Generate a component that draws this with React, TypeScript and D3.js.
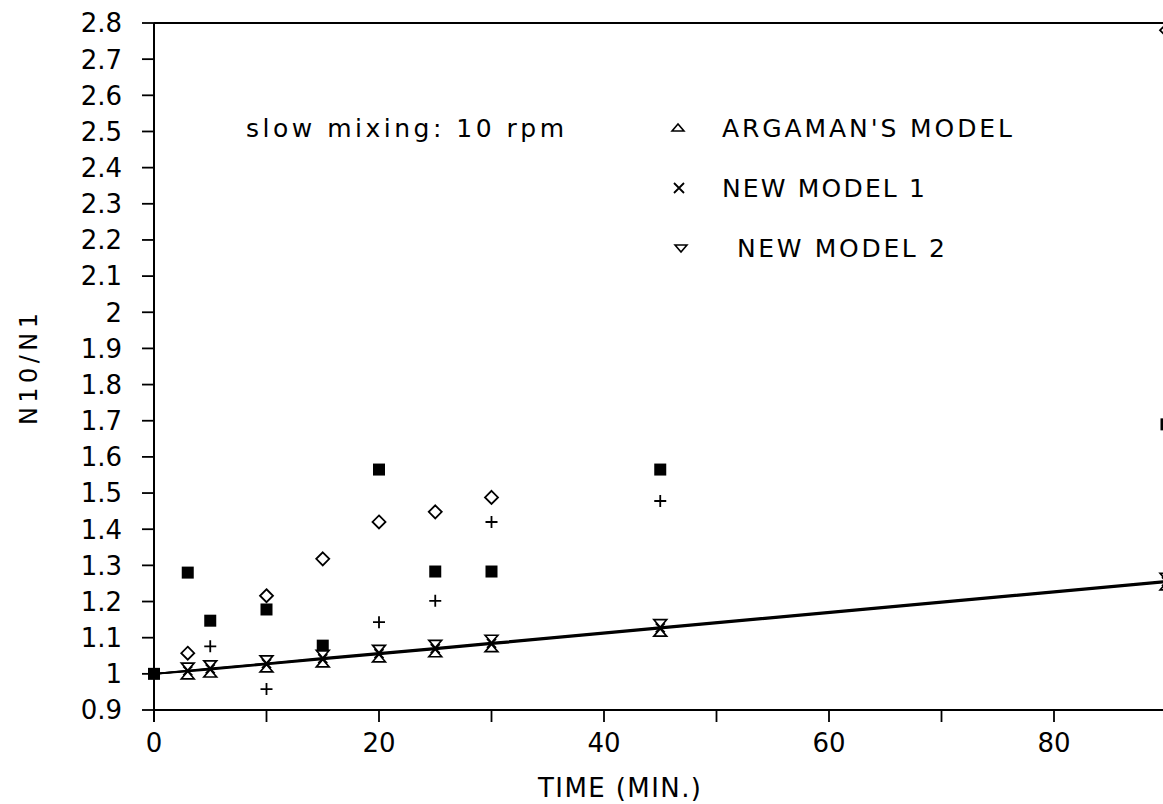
import React from 'react';
import * as d3 from 'd3';

// time in minutes
const times = [0, 3, 5, 10, 15, 20, 25, 30, 45, 90];

// measured ratio (filled squares)
const measuredSquare = [
  [0, 1.0], [3, 1.28], [5, 1.147], [10, 1.178], [15, 1.078],
  [20, 1.565], [25, 1.283], [30, 1.283], [45, 1.565], [90, 1.69],
];
// open diamonds
const measuredDiamond = [
  [3, 1.057], [10, 1.216], [15, 1.318], [20, 1.42], [25, 1.448], [30, 1.488], [90, 2.78],
];
// plus signs
const measuredPlus = [
  [5, 1.076], [10, 0.958], [20, 1.143], [25, 1.202], [30, 1.42], [45, 1.478],
];

// model curves, one value per entry in times
const argamanModel = [1.0, 1.007, 1.012, 1.026, 1.04, 1.054, 1.068, 1.082, 1.125, 1.253];
const newModel1 = [1.0, 1.008, 1.014, 1.028, 1.042, 1.056, 1.07, 1.084, 1.127, 1.255];
const newModel2 = [1.0, 1.009, 1.015, 1.029, 1.044, 1.058, 1.072, 1.086, 1.129, 1.257];

const xTicks = [0, 10, 20, 30, 40, 50, 60, 70, 80, 90];
const xTickLabels = ['0', '', '20', '', '40', '', '60', '', '80', ''];
const yTicks = [0.9, 1, 1.1, 1.2, 1.3, 1.4, 1.5, 1.6, 1.7, 1.8, 1.9, 2, 2.1, 2.2, 2.3, 2.4, 2.5, 2.6, 2.7, 2.8];
const yTickLabels = ['0.9', '1', '1.1', '1.2', '1.3', '1.4', '1.5', '1.6', '1.7', '1.8', '1.9', '2', '2.1', '2.2', '2.3', '2.4', '2.5', '2.6', '2.7', '2.8'];

const legendNames = ["ARGAMAN'S MODEL", 'NEW MODEL 1', 'NEW MODEL 2'];

const W = 1163;
const H = 804;
const FONT = '"DejaVu Sans", sans-serif';

const x = d3.scaleLinear().domain([0, 90]).range([154, 1166.5]);
const y = d3.scaleLinear().domain([0.9, 2.8]).range([710, 23]);

const upTri = (s: number) => `M0,0L${-s * 0.85},${s}L${s * 0.85},${s}Z`;
const downTri = (s: number) => `M0,0L${-s * 0.85},${-s}L${s * 0.85},${-s}Z`;
const cross = (s: number) => `M${-s},${-s}L${s},${s}M${-s},${s}L${s},${-s}`;
const plus = (s: number) => `M${-s},0L${s},0M0,${-s}L0,${s}`;
const diamond = (s: number) => `M0,${-s}L${s},0L0,${s}L${-s},0Z`;

export default function App() {
  const line = d3.line<number>()
    .x((_, i) => x(times[i]))
    .y(d => y(d));

  const models = [argamanModel, newModel1, newModel2];
  const [x0, x1] = x.range();
  const [yb, yt] = y.range();

  return (
    <svg width={W} height={H} style={{ position: 'absolute', left: 0, top: 0, background: '#fff' }}>
      <rect width={W} height={H} fill="#fff" />

      {/* frame */}
      <line x1={x0} x2={x0} y1={yt} y2={yb + 12} stroke="#000" strokeWidth={2} />
      <line x1={x0} x2={x1} y1={yb} y2={yb} stroke="#000" strokeWidth={2} />
      <line x1={x0} x2={x1} y1={yt} y2={yt} stroke="#000" strokeWidth={2} />

      {/* y ticks */}
      {yTicks.map((v, i) => (
        <g key={'yt' + i} transform={`translate(0,${y(v)})`}>
          <line x1={x0 - 12} x2={x0} stroke="#000" strokeWidth={1.8} />
          <text x={122} dy="0.36em" textAnchor="end" fontFamily={FONT} fontSize={26} fill="#000">
            {yTickLabels[i]}
          </text>
        </g>
      ))}

      {/* x ticks */}
      {xTicks.map((v, i) => (
        <g key={'xt' + i} transform={`translate(${x(v)},0)`}>
          <line y1={yb} y2={yb + 12} stroke="#000" strokeWidth={1.8} />
          <text y={752} textAnchor="middle" fontFamily={FONT} fontSize={26} fill="#000">
            {xTickLabels[i]}
          </text>
        </g>
      ))}

      {/* axis titles */}
      <text x={538} y={797} textLength={163} lengthAdjust="spacing" fontFamily={FONT} fontSize={26} fill="#000">
        TIME (MIN.)
      </text>
      <text transform="translate(37,425) rotate(-90)" textLength={112} lengthAdjust="spacing"
        fontFamily={FONT} fontSize={24} fill="#000">
        N10/N1
      </text>

      {/* annotation + legend */}
      <text x={246} y={137} textLength={318} lengthAdjust="spacing" fontFamily={FONT} fontSize={25} fill="#000">
        slow mixing: 10 rpm
      </text>
      <path transform="translate(678,124)" d={upTri(7)} fill="none" stroke="#000" strokeWidth={1.6} />
      <path transform="translate(679,188)" d={cross(5)} fill="none" stroke="#000" strokeWidth={1.8} />
      <path transform="translate(681,252)" d={downTri(7)} fill="none" stroke="#000" strokeWidth={1.6} />
      <text x={722} y={137} textLength={290} lengthAdjust="spacing" fontFamily={FONT} fontSize={25} fill="#000">
        {legendNames[0]}
      </text>
      <text x={722} y={197} textLength={203} lengthAdjust="spacing" fontFamily={FONT} fontSize={25} fill="#000">
        {legendNames[1]}
      </text>
      <text x={737} y={257} textLength={208} lengthAdjust="spacing" fontFamily={FONT} fontSize={25} fill="#000">
        {legendNames[2]}
      </text>

      {/* model lines */}
      {models.map((m, k) => (
        <path key={'ml' + k} d={line(m) || ''} fill="none" stroke="#000" strokeWidth={1.8} />
      ))}

      {/* model markers */}
      {times.map((t, i) => i === 0 ? null : (
        <g key={'mm' + i}>
          <path transform={`translate(${x(t)},${y(argamanModel[i])})`} d={upTri(7.5)} fill="#fff" stroke="#000" strokeWidth={1.7} />
          <path transform={`translate(${x(t)},${y(newModel2[i])})`} d={downTri(7.5)} fill="#fff" stroke="#000" strokeWidth={1.7} />
          <path transform={`translate(${x(t)},${y(newModel1[i])})`} d={cross(4.5)} fill="none" stroke="#000" strokeWidth={1.8} />
        </g>
      ))}

      {/* measured points */}
      {measuredSquare.map(([t, v], i) => (
        <rect key={'sq' + i} x={x(t) - 6} y={y(v) - 6} width={12} height={12} fill="#000" />
      ))}
      {measuredDiamond.map(([t, v], i) => (
        <path key={'dm' + i} transform={`translate(${x(t)},${y(v)})`} d={diamond(6.5)} fill="#fff" stroke="#000" strokeWidth={1.8} />
      ))}
      {measuredPlus.map(([t, v], i) => (
        <path key={'pl' + i} transform={`translate(${x(t)},${y(v)})`} d={plus(6)} fill="none" stroke="#000" strokeWidth={1.8} />
      ))}
    </svg>
  );
}
